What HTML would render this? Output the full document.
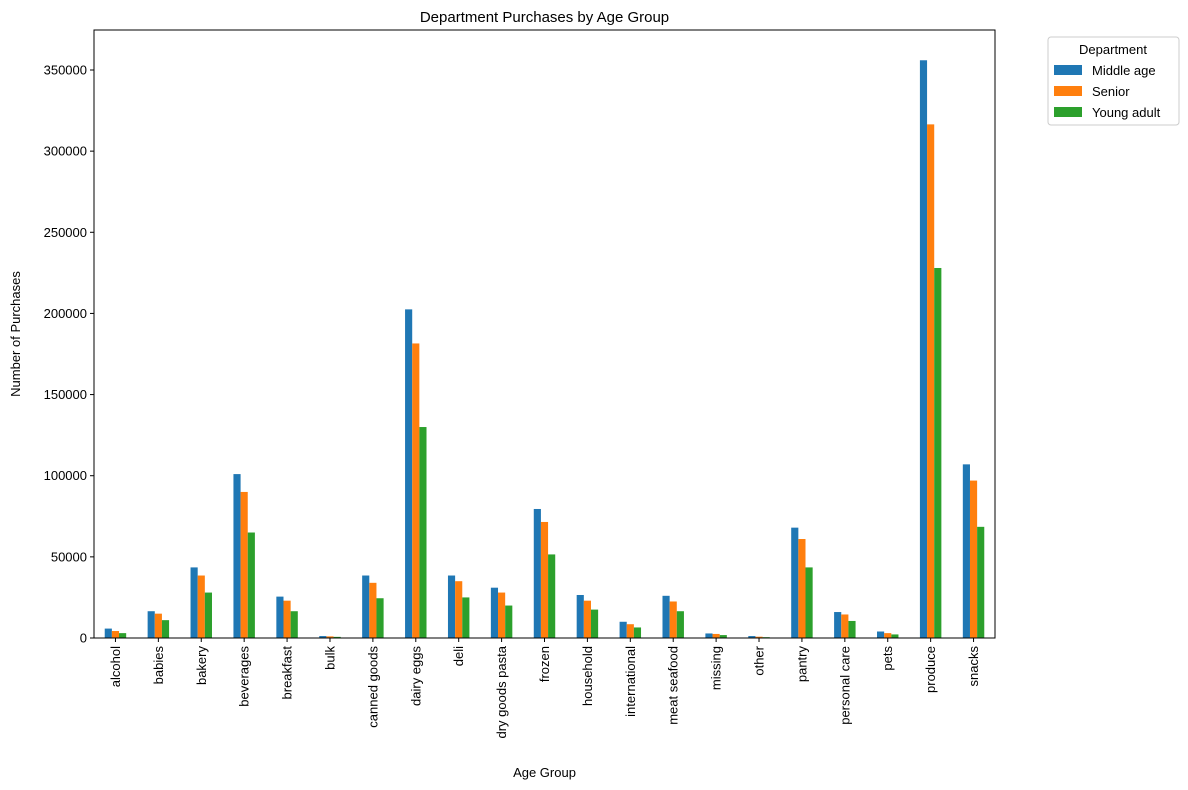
<!DOCTYPE html>
<html><head><meta charset="utf-8"><style>
body{margin:0;background:#fff;}
svg{display:block;font-family:"Liberation Sans","DejaVu Sans",sans-serif;}
</style></head><body>
<svg id="chart" width="1188" height="790"></svg>
<script>
const categories=["alcohol","babies","bakery","beverages","breakfast","bulk","canned goods","dairy eggs","deli","dry goods pasta","frozen","household","international","meat seafood","missing","other","pantry","personal care","pets","produce","snacks"];
const middleAge=[5800,16500,43500,101000,25500,1200,38500,202500,38500,31000,79500,26500,10000,26000,2800,1200,68000,16000,4000,356000,107000];
const senior=[4300,15000,38500,90000,23000,1000,34000,181500,35000,28000,71500,23000,8500,22500,2500,800,61000,14500,3000,316500,97000];
const youngAdult=[3000,11000,28000,65000,16500,700,24500,130000,25000,20000,51500,17500,6500,16500,1800,500,43500,10500,2200,228000,68500];
const seriesNames=["Middle age","Senior","Young adult"];
const yTicks=[0,50000,100000,150000,200000,250000,300000,350000];

const NS="http://www.w3.org/2000/svg";
const svg=document.getElementById('chart');
const L=94,R=995,T=30,B=638;
const colors=["#1f77b4","#ff7f0e","#2ca02c"];
const series=[middleAge,senior,youngAdult];
const step=(R-L)/categories.length;
const yS=v=>B-v*(B-70)/350000;
const xS=i=>L+(i+0.5)*step;
function el(tag,attrs,parent){const e=document.createElementNS(NS,tag);for(const k in attrs)e.setAttribute(k,attrs[k]);(parent||svg).appendChild(e);return e;}
function txt(s,attrs,parent){const e=el('text',attrs,parent);e.textContent=s;return e;}

const title=txt("Department Purchases by Age Group",{x:(L+R)/2,y:22,'text-anchor':'middle','font-size':15});



const bw=step*0.5/3;
series.forEach((vals,s)=>{
  const g=el('g',{});
  
  
  vals.forEach((v,i)=>{
    const x=xS(i)-step*0.25+s*bw;
    const r=el('rect',{x:x,y:yS(v),width:bw,height:B-yS(v),fill:colors[s]},g);
    
    
  });
});

const frame=el('rect',{x:L,y:T,width:R-L,height:B-T,fill:'none',stroke:'#000','stroke-width':1});



yTicks.forEach(v=>{
  const y=yS(v);
  el('line',{x1:L-4,x2:L,y1:y,y2:y,stroke:'#000'});
  const t=txt(String(v),{x:L-7,y:y+4.5,'text-anchor':'end','font-size':13});
  
  
});
categories.forEach((c,i)=>{
  const x=xS(i);
  el('line',{x1:x,x2:x,y1:B,y2:B+4,stroke:'#000'});
  const t=txt(c,{x:0,y:0,'text-anchor':'end','font-size':13,transform:`translate(${x+4.5},${B+8}) rotate(-90)`});
  
  
});

const xl=txt("Age Group",{x:(L+R)/2,y:777,'text-anchor':'middle','font-size':13});


const yl=txt("Number of Purchases",{x:0,y:0,'text-anchor':'middle','font-size':13,transform:`translate(20,${(T+B)/2}) rotate(-90)`});



const lg=el('g',{});


el('rect',{x:1048,y:37,width:131,height:88,rx:3,fill:'#fff',stroke:'#ccc'},lg);
txt("Department",{x:1113,y:54,'text-anchor':'middle','font-size':13},lg);
seriesNames.forEach((n,s)=>{
  const y=70+s*21;
  const r=el('rect',{x:1054,y:y-5,width:28,height:10,fill:colors[s]},lg);
  
  
  const t=txt(n,{x:1092,y:y+5,'font-size':13},lg);
  
  
});
</script>
</body></html>
